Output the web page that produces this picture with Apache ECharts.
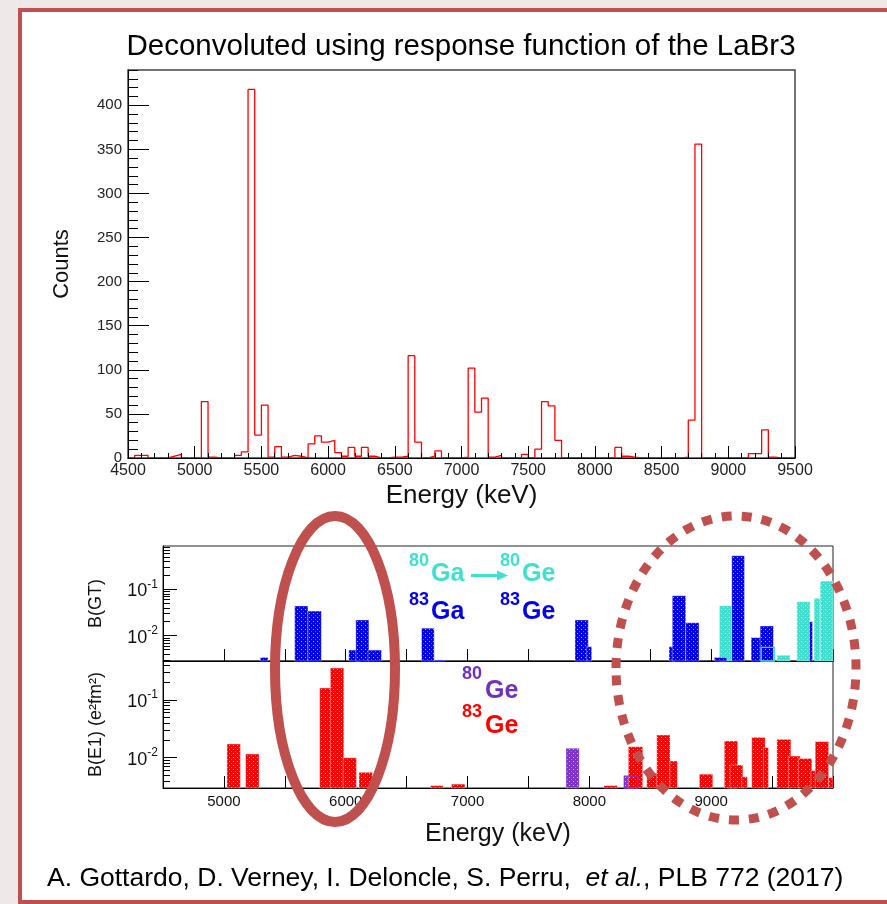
<!DOCTYPE html>
<html><head><meta charset="utf-8">
<script src="https://cdn.jsdelivr.net/npm/echarts@6/dist/echarts.min.js"></script>
<style>
html,body{margin:0;padding:0;background:#eee8e8;overflow:hidden;}
#frame{position:absolute;left:18px;top:8px;width:900px;height:888px;background:#fff;border:4px solid #c0504d;}
#c{position:absolute;left:0;top:0;width:887px;height:904px;}
</style>
</head><body><div id="frame"></div><div id="c"></div>
<script>
// ---------- DATA ----------
// Top histogram: counts per 50 keV bin starting at 4500 keV
const histStart = 4500;
const histBinWidth = 50;
const histCounts = [
  0,3,3,0,0,0,2,4,0,0,
  0,64,1,0,0,0,3,7,418,26,
  60,1,13,1,3,2,0,16,25,18,
  20,6,2,12,2,12,2,0,0,1,
  1,2,116,18,0,2,8,0,0,0,
  1,102,52,68,1,3,0,0,0,4,
  0,10,64,59,20,0,0,0,0,0,
  0,0,0,12,2,1,0,0,0,0,
  0,0,0,1,43,356,0,0,0,0,
  0,0,0,5,5,32,1,0,0,0
];
const countTicks = [0,50,100,150,200,250,300,350,400];
const countMinorTicks = [0,10,20,30,40,50,60,70,80,90,100,110,120,130,140,150,160,170,180,190,200,210,220,230,240,250,260,270,280,290,300,310,320,330,340,350,360,370,380,390,400,410,420,430,440];

// Bottom panels: [E start, E end, value]
const gtGe83 = [ // 83Ga -> 83Ge, B(GT)
  [5299,5362,0.0034],[5581,5690,0.0437],[5690,5800,0.034],[6025,6115,0.0049],
  [6083,6190,0.0218],[6183,6293,0.0049],[6622,6726,0.0145],[6726,6813,0.003],
  [7882,7991,0.0218],[7978,8019,0.0058],[8654,8704,0.0058],[8681,8791,0.0728],
  [8791,8900,0.019],[9026,9128,0.0034],[9169,9273,0.53],[9328,9410,0.0091],
  [9402,9511,0.0162],[9807,9832,0.02]
];
const gtGe80 = [ // 80Ga -> 80Ge, B(GT)
  [9067,9169,0.0443],[9539,9648,0.0038],[9703,9812,0.054],[9845,9894,0.064],[9895,10000,0.151]
];
const gtGe80Open = [[9410,9519,0.0056]];
const e1Ge83 = [ // 83Ge, B(E1)
  [5025,5135,0.0173],[5178,5288,0.0116],[5786,5882,0.16],[5874,5984,0.355],
  [5978,6088,0.01],[6109,6219,0.0056],[6696,6800,0.0033],[6868,6978,0.0035],
  [8120,8230,0.0033],[8320,8438,0.0155],[8471,8558,0.0054],[8553,8662,0.0247],
  [8662,8722,0.0088],[8903,9013,0.0052],[9108,9218,0.0195],[9155,9260,0.0075],
  [9251,9297,0.0047],[9333,9443,0.0225],[9429,9470,0.015],[9539,9654,0.0208],
  [9634,9730,0.0107],[9716,9826,0.0097],[9818,9867,0.006],[9854,9964,0.019],
  [9964,10000,0.0045]
];
const e1Ge80 = [ // 80Ge, B(E1)
  [7808,7917,0.0146],[8287,8397,0.0048],[9136,9146,0.0075]
];
const e1Ge80Open = [[8287,8397,0.0048]];
const logMajor = [0.01,0.1];
const logMinor = [0.003,0.004,0.005,0.006,0.007,0.008,0.009,0.02,0.03,0.04,0.05,0.06,0.07,0.08,0.09,0.2,0.3,0.4,0.5,0.6,0.7,0.8];
const gtRange = [0.00285, 0.857];
const e1Range = [0.0030, 0.47];

// ---------- CHART ----------
const FF = 'Liberation Sans, Arial, sans-serif';
const histData = histCounts.map((c,i)=>[histStart + i*histBinWidth, c]);
histData.push([histStart + histCounts.length*histBinWidth, 0]);

function dotPattern(color){
  const c = document.createElement('canvas'); c.width = 4; c.height = 4;
  const g = c.getContext('2d');
  g.fillStyle = color; g.fillRect(0,0,4,4);
  g.fillStyle = 'rgba(255,255,255,0.7)'; g.fillRect(1,1,1,1);
  g.fillStyle = 'rgba(255,255,255,0.35)'; g.fillRect(3,3,1,1);
  return {image:c, repeat:'repeat'};
}
function bars(data, xi, yi, yMin, color, open){
  const pat = open ? null : dotPattern(color);
  return {
    type:'custom', xAxisIndex:xi, yAxisIndex:yi, data, silent:true,
    encode:{x:[0,1], y:2},
    renderItem:(params, api)=>{
      const a = api.coord([api.value(0), api.value(2)]);
      const b = api.coord([api.value(1), yMin]);
      return {type:'rect', shape:{x:a[0], y:a[1], width:b[0]-a[0], height:b[1]-a[1]},
        style: open ? {fill:'none', stroke:color, lineWidth:1.3}
                    : {fill:pat, stroke:'rgba(255,255,255,0.35)', lineWidth:1}};
    }
  };
}
const logLabel = v => { const e = Math.round(Math.log10(v)); return '{b|10}{s|' + e + '}'; };
const logRich = {b:{fontSize:18, fontFamily:FF, color:'#111', verticalAlign:'bottom', lineHeight:22},
                 s:{fontSize:12, fontFamily:FF, color:'#111', verticalAlign:'top', lineHeight:22}};

function logAxes(grid, range, name){
  return [
    {type:'log', gridIndex:grid, min:range[0], max:range[1], position:'left',
     axisLine:{show:true, lineStyle:{color:'#000'}},
     axisTick:{show:true, inside:true, length:14, customValues:logMajor, lineStyle:{color:'#000'}},
     axisLabel:{show:true, customValues:logMajor, formatter:logLabel, rich:logRich, margin:5},
     splitLine:{show:false}, minorTick:{show:false},
     name, nameLocation:'middle', nameRotate:90, nameGap:58,
     nameTextStyle:{fontSize:18, fontFamily:FF, color:'#111'}},
    {type:'log', gridIndex:grid, min:range[0], max:range[1], position:'left', offset:0,
     axisLine:{show:false},
     axisTick:{show:true, inside:true, length:7, customValues:logMinor, lineStyle:{color:'#000'}},
     axisLabel:{show:false}, splitLine:{show:false}}
  ];
}

const T = (text, x, y, size, color, extra) => Object.assign({
  type:'text', z:50, style:{text, x, y, fill:color, font:'bold '+size+'px '+FF,
  align:'left', verticalAlign:'middle', textAlign:'left', textVerticalAlign:'middle'}}, extra||{});

const option = {
  animation:false,
  backgroundColor:'transparent',
  grid:[
    {left:128, top:70, width:667, height:388, show:true, borderColor:'#444', borderWidth:1.5},
    {left:163, top:546, width:670, height:115, show:true, borderColor:'#222', borderWidth:1},
    {left:163, top:661, width:670, height:127, show:true, borderColor:'#222', borderWidth:1}
  ],
  xAxis:[
    {type:'value', gridIndex:0, min:4500, max:9500, interval:500, z:5,
     axisLine:{lineStyle:{color:'#000'}},
     axisTick:{inside:true, length:12, lineStyle:{color:'#000'}},
     minorTick:{show:true, splitNumber:5, length:5, lineStyle:{color:'#000'}},
     axisLabel:{fontSize:16, fontFamily:FF, color:'#222', margin:5, formatter:v => String(v)},
     splitLine:{show:false},
     name:'Energy (keV)', nameLocation:'middle', nameGap:25,
     nameTextStyle:{fontSize:26, fontFamily:FF, color:'#111'}},
    {type:'value', gridIndex:1, min:4500, max:10000, interval:500,
     axisLine:{lineStyle:{color:'#000'}},
     axisTick:{inside:true, length:12, lineStyle:{color:'#000'}},
     axisLabel:{show:false}, splitLine:{show:false}},
    {type:'value', gridIndex:2, min:4500, max:10000, interval:500,
     axisLine:{lineStyle:{color:'#000'}},
     axisTick:{inside:true, length:12, lineStyle:{color:'#000'}},
     axisLabel:{fontSize:15, fontFamily:FF, color:'#111', margin:6,
       formatter:v => (v % 1000 === 0 && v > 4500 && v < 10000) ? String(v) : ''},
     splitLine:{show:false},
     name:'Energy (keV)', nameLocation:'middle', nameGap:34,
     nameTextStyle:{fontSize:25, fontFamily:FF, color:'#111'}}
  ],
  yAxis:[
    {type:'value', gridIndex:0, min:0, max:440,
     axisLine:{lineStyle:{color:'#000'}},
     axisTick:{inside:true, length:21, customValues:countTicks, lineStyle:{color:'#000'}},
     axisLabel:{customValues:countTicks, fontSize:15, fontFamily:FF, color:'#222', margin:6},
     splitLine:{show:false},
     name:'Counts', nameLocation:'middle', nameRotate:90, nameGap:55,
     nameTextStyle:{fontSize:22, fontFamily:FF, color:'#111'}},
    {type:'value', gridIndex:0, min:0, max:440, position:'left', offset:0,
     axisLine:{show:false},
     axisTick:{inside:true, length:10, customValues:countMinorTicks, lineStyle:{color:'#000'}},
     axisLabel:{show:false}, splitLine:{show:false}},
    ...logAxes(1, gtRange, 'B(GT)'),
    ...logAxes(2, e1Range, 'B(E1) (e²fm²)')
  ],
  series:[
    {type:'line', xAxisIndex:0, yAxisIndex:0, data:histData, step:'end', showSymbol:false, silent:true,
     lineStyle:{color:'#ff0000', width:1.3}},
    bars(gtGe80, 1, 2, gtRange[0], '#40e0d0', false),
    bars(gtGe83, 1, 2, gtRange[0], '#0000ee', false),
    bars(gtGe80Open, 1, 2, gtRange[0], '#40e0d0', true),
    bars(e1Ge80, 2, 4, e1Range[0], '#7f30d0', false),
    bars(e1Ge83, 2, 4, e1Range[0], '#ff0000', false),
    bars(e1Ge80Open, 2, 4, e1Range[0], '#7f30d0', true)
  ],
  graphic:[
    {type:'text', z:50, style:{text:'Deconvoluted using response function of the LaBr3', x:461, y:47,
      fill:'#000', font:'29.5px '+FF, align:'center', verticalAlign:'middle', textAlign:'center', textVerticalAlign:'middle'}},
    T('80', 409, 561, 18, '#40e0d0'), T('Ga', 431, 574, 25, '#40e0d0'),
    {type:'line', z:50, shape:{x1:471, y1:575.5, x2:500, y2:575.5}, style:{stroke:'#40e0d0', lineWidth:3}},
    {type:'polygon', z:50, shape:{points:[[497,570.5],[508,575.5],[497,580.5]]}, style:{fill:'#40e0d0'}},
    T('80', 500, 561, 18, '#40e0d0'), T('Ge', 522, 574, 25, '#40e0d0'),
    T('83', 409, 600, 18, '#0000ee'), T('Ga', 431, 612.5, 25, '#0000ee'),
    T('83', 500, 600, 18, '#0000ee'), T('Ge', 522, 612.5, 25, '#0000ee'),
    T('80', 462, 674, 18, '#7030c0'), T('Ge', 485, 691, 25, '#7030c0'),
    T('83', 462, 712, 18, '#ff0000'), T('Ge', 485, 726, 25, '#ff0000'),
    {type:'ellipse', z:100, shape:{cx:335, cy:669, rx:60, ry:153}, style:{fill:'none', stroke:'#c0504d', lineWidth:10}},
    {type:'ellipse', z:100, shape:{cx:736, cy:668, rx:120, ry:152}, style:{fill:'none', stroke:'#c0504d', lineWidth:9, lineDash:[10,10]}},
    {type:'text', z:50, style:{
      text:'{n|A. Gottardo, D. Verney, I. Deloncle, S. Perru,  }{i|et al.}{n|, PLB 772 (2017)}',
      x:47, y:879, align:'left', verticalAlign:'middle', textAlign:'left', textVerticalAlign:'middle',
      rich:{n:{fontSize:26.5, fontFamily:FF, fill:'#000', color:'#000'},
            i:{fontSize:26.5, fontFamily:FF, fontStyle:'italic', fill:'#000', color:'#000'}}}}
  ]
};
const chart = echarts.init(document.getElementById('c'), null, {renderer:'canvas'});
chart.setOption(option);
</script>
</body></html>
